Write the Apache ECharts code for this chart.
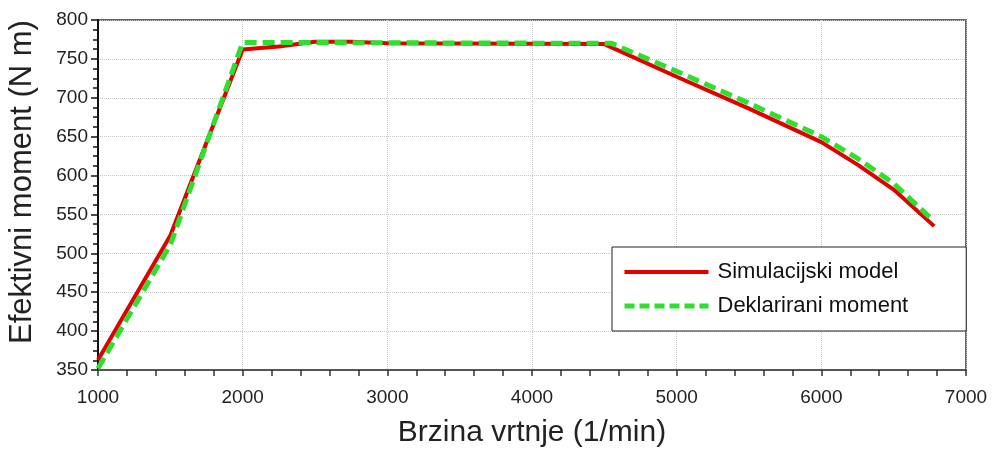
<!DOCTYPE html>
<html>
<head>
<meta charset="utf-8">
<script src="https://cdn.jsdelivr.net/npm/echarts@6/dist/echarts.min.js"></script>
<style>
html,body{margin:0;padding:0;background:#fff;}
#chart{width:992px;height:450px;}
</style>
</head>
<body>
<div id="chart"></div>
<script>
const seriesNames = ['Simulacijski model', 'Deklarirani moment'];
const simX = [1000, 1500, 2000, 2250, 2500, 2750, 3000, 4500, 5000, 5500, 6000, 6250, 6500, 6780];
const simY = [363, 523, 762, 766, 772, 772, 770, 769, 727, 686, 643, 614, 582, 535];
const decX = [1000, 1500, 2000, 2500, 4550, 5000, 5500, 6000, 6250, 6500, 6780];
const decY = [352, 511, 771, 771, 770, 734, 693, 650, 622, 590, 541];
const xTicks = [1000, 2000, 3000, 4000, 5000, 6000, 7000];
const yTicks = [350, 400, 450, 500, 550, 600, 650, 700, 750, 800];
const xTitle = 'Brzina vrtnje (1/min)';
const yTitle = 'Efektivni moment (N m)';

const FONT = "'Liberation Sans', Arial, sans-serif";
const chart = echarts.init(document.getElementById('chart'), null, {renderer: 'canvas'});
const pairs = (xs, ys) => xs.map((x, i) => [x, ys[i]]);
const RED = '#e00000', GREEN = '#2de02d';

chart.setOption({
  backgroundColor: '#ffffff',
  animation: false,
  grid: {left: 98, right: 26, top: 20, bottom: 80, containLabel: false, outerBoundsMode: 'none',
         show: true, borderColor: '#666', borderWidth: 2, backgroundColor: 'transparent'},
  legend: {
    left: 612, top: 247,
    orient: 'vertical',
    backgroundColor: '#fff',
    borderColor: '#222', borderWidth: 1,
    padding: [14, 58, 14, 10],
    itemWidth: 84, itemHeight: 14, itemGap: 12,
    textStyle: {fontFamily: FONT, fontSize: 22, color: '#111', padding: [0, 0, 0, 4]},
    data: [
      {name: seriesNames[0], itemStyle: {color: 'transparent', borderWidth: 0}, lineStyle: {color: RED, width: 4, type: 'solid'}},
      {name: seriesNames[1], itemStyle: {color: 'transparent', borderWidth: 0}, lineStyle: {color: GREEN, width: 5, type: [10, 5]}}
    ]
  },
  xAxis: {
    type: 'value', min: xTicks[0], max: xTicks[xTicks.length - 1], interval: 1000,
    name: xTitle, nameLocation: 'middle', nameGap: 48,
    nameTextStyle: {fontFamily: FONT, fontSize: 30, color: '#222'},
    axisLine: {show: true, lineStyle: {color: '#555', width: 2}},
    axisTick: {show: true, inside: false, length: 6, lineStyle: {color: '#333', width: 1.5}},
    minorTick: {show: true, splitNumber: 5, length: 6, lineStyle: {color: '#333', width: 1.5}},
    axisLabel: {fontFamily: FONT, fontSize: 19, color: '#222', margin: 18, formatter: v => String(v)},
    splitLine: {show: true, lineStyle: {color: '#c8c8c8', type: 'dotted', width: 1}}
  },
  yAxis: {
    type: 'value', min: yTicks[0], max: yTicks[yTicks.length - 1], interval: 50,
    name: yTitle, nameLocation: 'middle', nameGap: 60, nameRotate: 90,
    nameTextStyle: {fontFamily: FONT, fontSize: 31, color: '#222', padding: [0, 0, 0, 26]},
    axisLine: {show: true, onZero: false, lineStyle: {color: '#111', width: 2}},
    axisTick: {show: true, inside: false, length: 7, lineStyle: {color: '#111', width: 1.5}},
    minorTick: {show: true, splitNumber: 4, length: 5, lineStyle: {color: '#111', width: 1.5}},
    axisLabel: {fontFamily: FONT, fontSize: 19, color: '#222', margin: 10, formatter: v => String(v)},
    splitLine: {show: true, lineStyle: {color: '#c8c8c8', type: 'dotted', width: 1}}
  },
  series: [
    {
      name: seriesNames[0], type: 'line', data: pairs(simX, simY),
      symbol: 'none', smooth: false,
      lineStyle: {color: RED, width: 4},
      itemStyle: {color: RED}
    },
    {
      name: seriesNames[1], type: 'line', data: pairs(decX, decY),
      symbol: 'none', smooth: false,
      lineStyle: {color: GREEN, width: 5, type: [12, 6]},
      itemStyle: {color: GREEN}
    }
  ]
});
</script>
</body>
</html>
